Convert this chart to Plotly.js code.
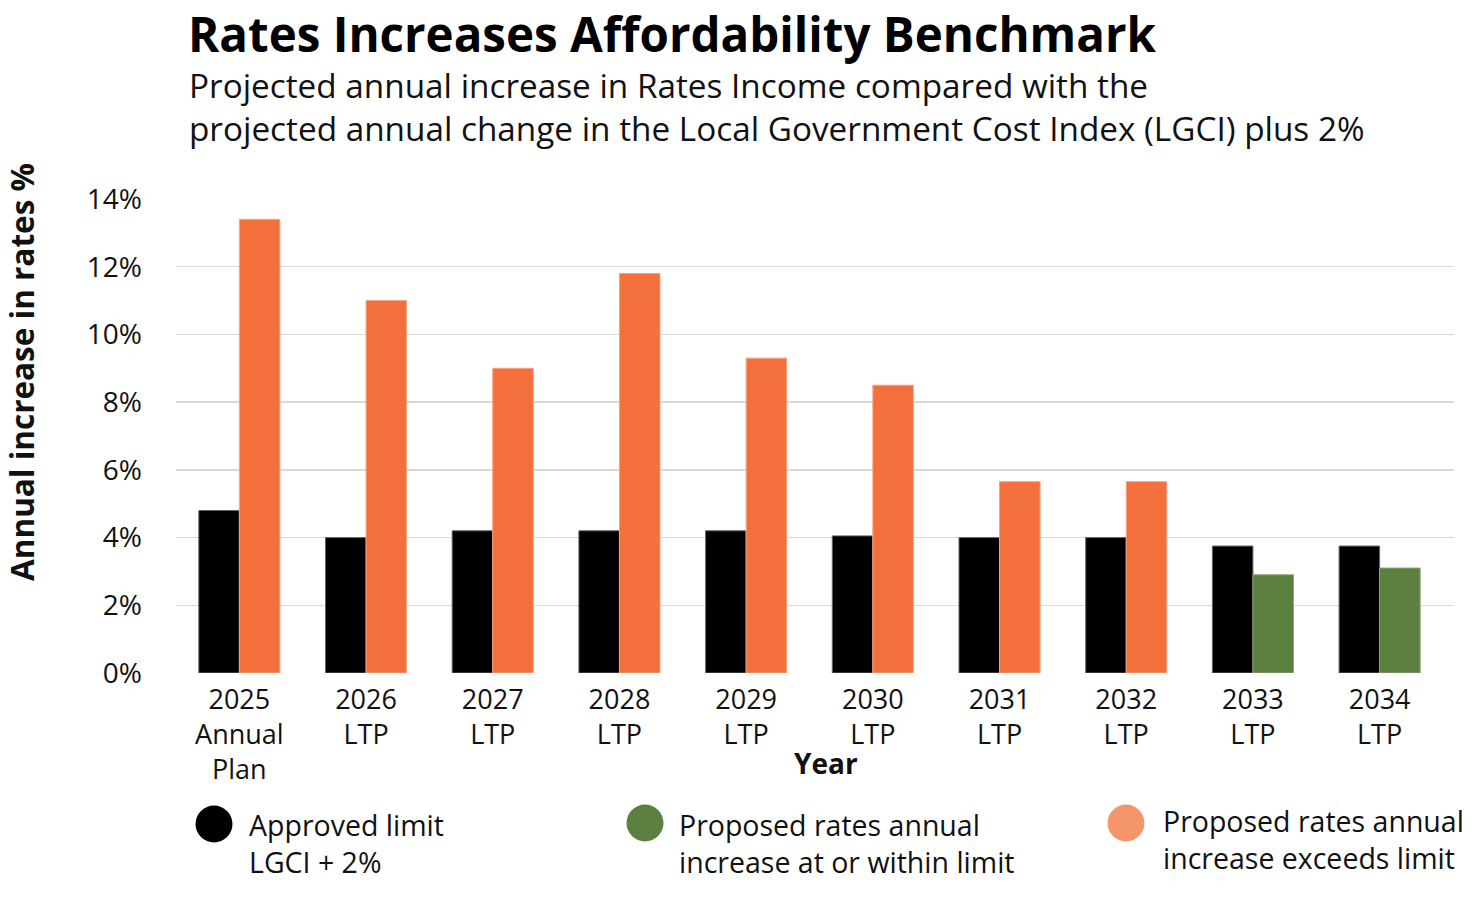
<!DOCTYPE html>
<html><head><meta charset="utf-8">
<script src="https://cdn.plot.ly/plotly-3.0.1.min.js"></script>
<style>html,body{margin:0;padding:0;background:#fff}#chart{width:1478px;height:899px}</style>
</head><body><div id="chart"></div>
<script>
const categories = ["2025<br>Annual<br>Plan","2026<br>LTP","2027<br>LTP","2028<br>LTP","2029<br>LTP","2030<br>LTP","2031<br>LTP","2032<br>LTP","2033<br>LTP","2034<br>LTP"];
const approvedLimit = [4.8, 4.0, 4.2, 4.2, 4.2, 4.05, 4.0, 4.0, 3.75, 3.75];
const proposedRates = [13.4, 11.0, 9.0, 11.8, 9.3, 8.5, 5.65, 5.65, 2.9, 3.1];
const yTicks = [0, 2, 4, 6, 8, 10, 12, 14];
const yTickLabels = ["0%","2%","4%","6%","8%","10%","12%","14%"];
const legendLabels = ["Approved limit<br>LGCI + 2%","Proposed rates annual<br>increase at or within limit","Proposed rates annual<br>increase exceeds limit"];
const subtitle = "Projected annual increase in Rates Income compared with the<br>projected annual change in the Local Government Cost Index (LGCI) plus 2%";

const BLACK = "#000000", ORANGE = "#F3703C", GREEN = "#5B7F3F", ORANGE_LIGHT = "#F5956A";
const idx = categories.map((_, i) => i);
const propColors = proposedRates.map((v, i) => v > approvedLimit[i] ? ORANGE : GREEN);
const propLines = proposedRates.map((v, i) => v > approvedLimit[i] ? "#F8A47F" : "#8FA678");

const font = "Open Sans, Noto Sans, sans-serif";
const data = [
  {type:"bar", x: idx, y: approvedLimit, name:"Approved limit", marker:{color:BLACK, line:{color:"#666", width:1}}, hoverinfo:"y"},
  {type:"bar", x: idx, y: proposedRates, name:"Proposed", marker:{color:propColors, line:{color:propLines, width:1}}, hoverinfo:"y"}
];

// pixel helpers (plot area: x 176..1454, y 199..673)
const px = x => (x - 176) / 1278;
const py = y => (673 - y) / 474;

const legendX = [214, 645, 1126];
const legendCY = [824, 823, 823];
const legendColors = [BLACK, GREEN, ORANGE_LIGHT];
const legendTextX = [247, 677, 1161];
const legendTextY = [843, 843, 839];
const shapes = [], annotations = [];
legendX.forEach((cx, i) => {
  const cy = legendCY[i], r = 18.5;
  shapes.push({type:"circle", xref:"paper", yref:"paper", x0:px(cx - r), x1:px(cx + r),
    y0:py(cy + r), y1:py(cy - r), fillcolor:legendColors[i], line:{width:0}});
  annotations.push({xref:"paper", yref:"paper", x:px(legendTextX[i]), y:py(legendTextY[i]),
    xanchor:"left", yanchor:"middle", align:"left", showarrow:false, text:legendLabels[i],
    font:{family:font, size:28.5, color:"#111"}});
});
annotations.push({xref:"paper", yref:"paper", x:px(826), y:py(763), xanchor:"center", yanchor:"middle",
  showarrow:false, text:"<b>Year</b>", font:{family:font, size:28, color:"#111"}});
annotations.push({xref:"paper", yref:"paper", x:px(21), y:py(372), xanchor:"center", yanchor:"middle",
  showarrow:false, textangle:-90, text:"<b>Annual increase in rates %</b>", font:{family:font, size:31.5, color:"#111"}});
annotations.push({xref:"paper", yref:"paper", x:px(186), y:py(33), xanchor:"left", yanchor:"middle",
  showarrow:false, text:"<b>Rates Increases Affordability Benchmark</b>", font:{family:font, size:47.5, color:"#000", weight:800}});
annotations.push({xref:"paper", yref:"paper", x:px(187), y:py(106), xanchor:"left", yanchor:"middle", align:"left",
  showarrow:false, text:subtitle, font:{family:font, size:33.3, color:"#111"}});

const layout = {
  width: 1478, height: 899,
  margin:{l:176, r:24, t:199, b:226},
  paper_bgcolor:"#fff", plot_bgcolor:"#fff",
  showlegend:false,
  barmode:"group", bargap:0.36, bargroupgap:0,
  font:{family:font, color:"#111"},
  xaxis:{range:[-0.5, 9.587], tickvals: idx, ticktext: categories, tickfont:{family:font, size:27, color:"#111"},
    showgrid:false, zeroline:false, showline:false, ticks:"", ticklabelstandoff:8, fixedrange:true},
  yaxis:{range:[0, 14], tickvals: yTicks, ticktext: yTickLabels, tickfont:{family:font, size:28, color:"#111"},
    showgrid:true, gridcolor:"#d9d9d9", gridwidth:1.5, zeroline:false, showline:false, ticks:"", ticklabelstandoff:33, fixedrange:true},
  shapes: shapes, annotations: annotations
};
Plotly.newPlot("chart", data, layout, {displayModeBar:false, staticPlot:true});
</script></body></html>
